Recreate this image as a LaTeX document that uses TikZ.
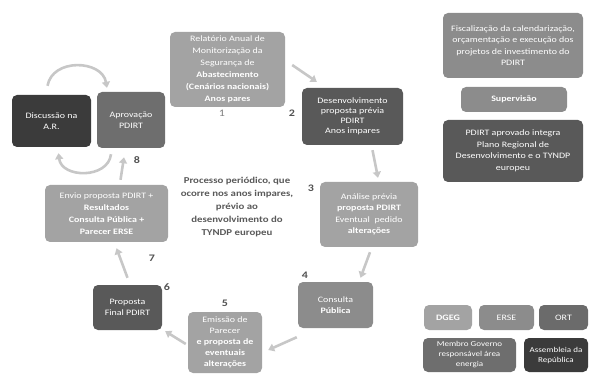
\documentclass[tikz,border=0pt]{standalone}
\usepackage{fontspec}
\setmainfont{Carlito}[FakeStretch=1.2]
\usepackage{xcolor}
\usepackage{tikz}
\usetikzlibrary{arrows.meta}
\tikzset{
  stagebox/.style={rounded corners=5pt, align=center, text=white, inner sep=1pt,
                   font=\fontsize{8.3}{11.5}\selectfont},
  lightbox/.style={stagebox, fill=black!36},
  midbox/.style={stagebox, fill=black!45},
  darkbox/.style={stagebox, fill=black!65},
  govbox/.style={stagebox, fill=black!57},
  arbox/.style={stagebox, fill=black!77},
  cyclearrow/.style={-{Triangle[length=6pt, width=8pt]}, line width=2.6pt, black!22},
  steplabel/.style={font=\fontsize{10}{12}\selectfont\bfseries, text=black!68}
}

\begin{document}
\begin{tikzpicture}[x=1pt, y=-1pt,
  notetext/.style={align=center, text=black!65, font=\fontsize{9}{13}\selectfont\bfseries},
]
\useasboundingbox (0,0) rectangle (589,374);

% --- Cycle stages ---
\node[lightbox, minimum width=115pt, minimum height=75pt, font=\fontsize{8.3}{12}\selectfont] (rel) at (227.5,69.5)
  {Relatório Anual de\\Monitorização da\\Segurança de\\\textbf{Abastecimento}\\\textbf{(Cenários nacionais)}\\\textbf{Anos pares}};
\node[darkbox, minimum width=101pt, minimum height=57pt, font=\fontsize{8.3}{10}\selectfont] (dev) at (352.5,116.5)
  {Desenvolvimento\\proposta prévia\\PDIRT\\Anos impares};
\node[lightbox, minimum width=98pt, minimum height=65pt] (ana) at (369,214.5)
  {Análise prévia\\\textbf{proposta PDIRT}\\Eventual\ \ pedido\\\textbf{alterações}};
\node[midbox, minimum width=75pt, minimum height=46pt] (cons) at (335.5,305)
  {Consulta\\\textbf{Pública}};
\node[lightbox, minimum width=74pt, minimum height=61pt, font=\fontsize{8.3}{11}\selectfont] (emi) at (225,342.5)
  {Emissão de\\Parecer\\\textbf{e proposta de}\\\textbf{eventuais}\\\textbf{alterações}};
\node[darkbox, minimum width=69pt, minimum height=45pt] (fin) at (127.5,307.5)
  {Proposta\\Final PDIRT};
\node[lightbox, minimum width=123pt, minimum height=57pt, font=\fontsize{8.3}{12}\selectfont] (env) at (106.5,213.5)
  {Envio proposta PDIRT +\\\textbf{Resultados}\\\textbf{Consulta Pública +}\\\textbf{Parecer ERSE}};
\node[govbox, minimum width=68pt, minimum height=56pt] (apr) at (131,120)
  {Aprovação\\PDIRT};
\node[arbox, minimum width=79pt, minimum height=52pt] (disc) at (51.5,121)
  {Discussão na\\A.R.};

% --- Centre note ---
\node[notetext] (note) at (237,207)
  {Processo periódico, que\\ocorre nos anos impares,\\prévio ao\\desenvolvimento do\\TYNDP europeu};

% --- Step numbers ---
\node[steplabel, font=\fontsize{10}{12}\selectfont, text=black!50] (n1) at (222,113) {1};
\node[steplabel] (n2) at (292,113) {2};
\node[steplabel] (n3) at (311,188) {3};
\node[steplabel] (n4) at (305,275) {4};
\node[steplabel] (n5) at (225,303) {5};
\node[steplabel] (n6) at (167,287) {6};
\node[steplabel] (n7) at (152,258) {7};
\node[steplabel] (n8) at (137,160) {8};

% --- Cycle arrows ---
\draw[cyclearrow] ([shift={(7,-4.5)}]rel.east) -- ([shift={(15,-6)}]dev.north west);
\draw[cyclearrow] ([shift={(20,5)}]dev.south) -- ([shift={(9,-4)}]ana.north);
\draw[cyclearrow] ([shift={(1,5)}]ana.south) -- ([shift={(25,-4)}]cons.north);
\draw[cyclearrow] ([shift={(-1,9)}]cons.south west) -- ([shift={(6,7.5)}]emi.east);
\draw[cyclearrow] ([shift={(-2,1.5)}]emi.west) -- ([shift={(3,1)}]fin.south east);
\draw[cyclearrow] ([shift={(0,-7)}]fin.north) -- ([shift={(10,6)}]env.south);
\draw[cyclearrow] ([shift={(14,-5)}]env.north) -- ([shift={(-7,9)}]apr.south);

% --- Loop between A.R. and approval ---
\draw[cyclearrow] ([shift={(-4,-9)}]disc.north) .. controls +(5,-28) and +(-5,-28) .. ([shift={(-24,-4)}]apr.north);
\draw[cyclearrow] ([shift={(-20,6)}]apr.south) .. controls +(-3,25) and +(3,25) .. ([shift={(7,6)}]disc.south);

% --- Supervision column ---
\node[midbox, minimum width=140pt, minimum height=65pt] (fisc) at (513,45.5)
  {Fiscalização da calendarização,\\orçamentação e execução dos\\projetos de investimento do\\PDIRT};
\node[midbox, minimum width=106pt, minimum height=25pt] (sup) at (514,99.5) {\textbf{Supervisão}};
\node[darkbox, minimum width=140pt, minimum height=62pt] (integ) at (513,151)
  {PDIRT aprovado integra\\Plano Regional de\\Desenvolvimento e o TYNDP\\europeu};

% --- Legend ---
\node[lightbox, minimum width=48pt, minimum height=25pt] (dgeg) at (448,317.5) {\textbf{DGEG}};
\node[midbox, minimum width=55pt, minimum height=25pt] (erse) at (506.5,317.5) {ERSE};
\node[darkbox, fill=black!58, minimum width=49pt, minimum height=25pt] (ort) at (563.5,317.5) {ORT};
\node[govbox, minimum width=93pt, minimum height=34pt, font=\fontsize{7.5}{10}\selectfont] (gov) at (469.5,355)
  {Membro Governo\\responsável área\\energia};
\node[arbox, minimum width=64pt, minimum height=34pt, font=\fontsize{7.5}{10}\selectfont] (ar) at (556,355)
  {Assembleia da\\República};

\end{tikzpicture}
\end{document}
